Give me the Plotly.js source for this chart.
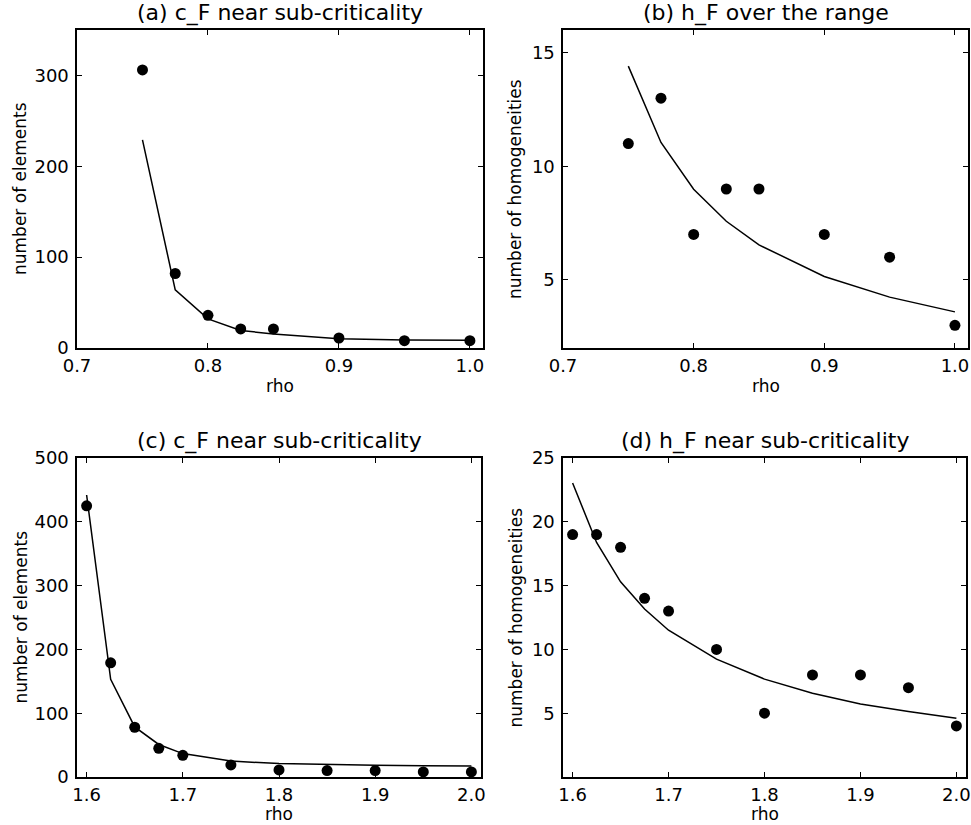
<!DOCTYPE html>
<html>
<head>
<meta charset="utf-8">
<script src="https://cdn.plot.ly/plotly-3.0.1.min.js"></script>
<style>html,body{margin:0;padding:0;background:#fff;}#chart{width:971px;height:825px;}</style>
</head>
<body>
<div id="chart"></div>
<script>
// Panel (a): c_F, rho 0.75..1.0
const rhoA = [0.75, 0.775, 0.8, 0.825, 0.85, 0.9, 0.95, 1.0];
const pointsA = [306, 82, 36, 21, 21, 11, 8, 8];
const fitA = [229, 64, 32, 19.3, 15.4, 10.2, 8.8, 8.4];
// Panel (b): h_F, rho 0.75..1.0
const rhoB = [0.75, 0.775, 0.8, 0.825, 0.85, 0.9, 0.95, 1.0];
const pointsB = [11, 13, 7, 9, 9, 7, 6, 3];
const fitB = [14.41, 11.05, 8.99, 7.58, 6.54, 5.15, 4.24, 3.59];
// Panel (c): c_F, rho 1.6..2.0
const rhoC = [1.6, 1.625, 1.65, 1.675, 1.7, 1.75, 1.8, 1.85, 1.9, 1.95, 2.0];
const pointsC = [425, 179, 78, 45, 34, 19, 11, 10, 10, 8, 8];
const fitC = [442, 153, 78.5, 51, 36.7, 25, 21, 19.4, 18.3, 17.8, 17.3];
// Panel (d): h_F, rho 1.6..2.0
const rhoD = [1.6, 1.625, 1.65, 1.675, 1.7, 1.75, 1.8, 1.85, 1.9, 1.95, 2.0];
const pointsD = [19, 19, 18, 14, 13, 10, 5, 8, 8, 7, 4];
const fitD = [23.04, 18.38, 15.3, 13.17, 11.5, 9.24, 7.67, 6.57, 5.73, 5.13, 4.6];

const titles = ["(a) c_F near sub-criticality", "(b) h_F over the range", "(c) c_F near sub-criticality", "(d) h_F near sub-criticality"];
const xTitle = "rho";
const yTitles = ["number of elements", "number of homogeneities", "number of elements", "number of homogeneities"];
const xTickVals = [[0.7, 0.8, 0.9, 1.0], [0.7, 0.8, 0.9, 1.0], [1.6, 1.7, 1.8, 1.9, 2.0], [1.6, 1.7, 1.8, 1.9, 2.0]];
const xTickText = [["0.7", "0.8", "0.9", "1.0"], ["0.7", "0.8", "0.9", "1.0"], ["1.6", "1.7", "1.8", "1.9", "2.0"], ["1.6", "1.7", "1.8", "1.9", "2.0"]];
const yTickVals = [[0, 100, 200, 300], [5, 10, 15], [0, 100, 200, 300, 400, 500], [5, 10, 15, 20, 25]];

const W = 971, H = 825;
const boxes = [
  {l: 77, r: 483, t: 30, b: 348, xr: [0.7, 1.01], yr: [0, 350], xtB: 397, ytX: 20},
  {l: 563, r: 968, t: 30, b: 348, xr: [0.7, 1.01], yr: [2, 16], xtB: 397, ytX: 515},
  {l: 77, r: 481, t: 458, b: 777, xr: [1.59, 2.01], yr: [0, 500], xtB: 825, ytX: 20},
  {l: 563, r: 966, t: 458, b: 777, xr: [1.59, 2.01], yr: [0, 25], xtB: 825, ytX: 515}
];
const xs = [rhoA, rhoB, rhoC, rhoD];
const pts = [pointsA, pointsB, pointsC, pointsD];
const fits = [fitA, fitB, fitC, fitD];

const fam = "DejaVu Sans, sans-serif";
const data = [];
const layout = {
  width: W, height: H,
  margin: {l: 0, r: 0, t: 0, b: 0},
  paper_bgcolor: "#fff", plot_bgcolor: "#fff",
  showlegend: false,
  font: {family: fam, color: "#000", size: 18},
  annotations: []
};

for (let i = 0; i < 4; i++) {
  const suf = i === 0 ? "" : String(i + 1);
  const xa = "x" + suf, ya = "y" + suf;
  data.push({x: xs[i], y: fits[i], xaxis: xa, yaxis: ya, mode: "lines", type: "scatter",
             line: {color: "#000", width: 1.5}, hoverinfo: "skip", cliponaxis: false});
  data.push({x: xs[i], y: pts[i], xaxis: xa, yaxis: ya, mode: "markers", type: "scatter",
             marker: {color: "#000", size: 11}, cliponaxis: false});
  const b = boxes[i];
  const axCommon = {
    showline: true, linecolor: "#000", linewidth: 1.6, mirror: "ticks",
    ticks: "inside", ticklen: 5, tickwidth: 1, tickcolor: "#000",
    showgrid: false, zeroline: false, fixedrange: true,
    tickfont: {family: fam, size: 18, color: "#000"}
  };
  layout["xaxis" + suf] = Object.assign({}, axCommon, {
    domain: [b.l / W, b.r / W], range: b.xr, anchor: ya,
    tickmode: "array", tickvals: xTickVals[i], ticktext: xTickText[i],
    ticklabelstandoff: 1
  });
  layout["yaxis" + suf] = Object.assign({}, axCommon, {
    domain: [1 - b.b / H, 1 - b.t / H], range: b.yr, anchor: xa,
    tickmode: "array", tickvals: yTickVals[i],
    ticklabelstandoff: 3
  });
  layout.annotations.push({
    text: titles[i], xref: "paper", yref: "paper",
    x: (b.l + b.r) / 2 / W, y: 1 - (b.t - 2) / H,
    xanchor: "center", yanchor: "bottom", showarrow: false,
    font: {family: fam, size: 22, color: "#000"}
  });
  layout.annotations.push({
    text: xTitle, xref: "paper", yref: "paper",
    x: (b.l + b.r) / 2 / W, y: 1 - b.xtB / H,
    xanchor: "center", yanchor: "bottom", showarrow: false, borderpad: 0,
    font: {family: fam, size: 17, color: "#000"}
  });
  layout.annotations.push({
    text: yTitles[i], xref: "paper", yref: "paper", textangle: -90,
    x: b.ytX / W, y: 1 - (b.t + b.b) / 2 / H,
    xanchor: "center", yanchor: "middle", showarrow: false,
    font: {family: fam, size: 17, color: "#000"}
  });
}

Plotly.newPlot("chart", data, layout, {displayModeBar: false, staticPlot: true});
</script>
</body>
</html>
